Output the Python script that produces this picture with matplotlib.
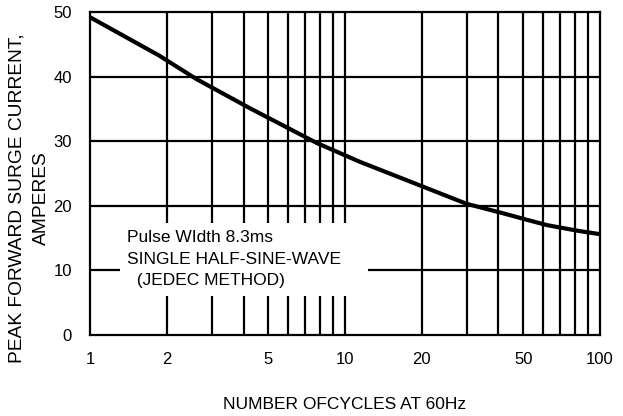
import numpy as np
import matplotlib.pyplot as plt
from matplotlib.patches import Rectangle

# curve values
cycles = [1, 1.86, 2.62, 4.24, 7.77, 11.45, 18.4, 30, 42, 52, 62, 82.5, 100]
current = [49.2, 43.3, 39.6, 35.1, 29.7, 26.8, 23.6, 20.3, 18.8, 17.8, 17.0, 16.1, 15.6]

xticks = [1, 2, 5, 10, 20, 50, 100]
yticks = [0, 10, 20, 30, 40, 50]
note_lines = ["Pulse WIdth 8.3ms", "SINGLE HALF-SINE-WAVE", "  (JEDEC METHOD)"]

plt.rcParams['font.family'] = ['Liberation Sans', 'DejaVu Sans']

fig = plt.figure(figsize=(6.23, 4.16), dpi=100)
ax = fig.add_axes([0.1445, 0.195, 0.8185, 0.776])

ax.set_xscale('log')
ax.set_xlim(1, 100)
ax.set_ylim(0, 50)

# grid: every integer cycle count, every 10 A
for gx in list(range(2, 10)) + list(range(10, 100, 10)):
    ax.axvline(gx, color='black', lw=1.6, zorder=1)
for gy in [10, 20, 30, 40]:
    ax.axhline(gy, color='black', lw=1.6, zorder=1)

ax.plot(cycles, current, color='black', lw=3, zorder=4,
        solid_capstyle='butt', solid_joinstyle='round')

# white note box covering the grid
ax.add_patch(Rectangle((0.059, 0.121), 0.486, 0.226, transform=ax.transAxes,
                       facecolor='white', edgecolor='none', zorder=2))
for i, line in enumerate(note_lines):
    ax.text(0.072, 0.303 - i * 0.068, line, transform=ax.transAxes, fontsize=12.5,
            va='center', ha='left', zorder=3)

ax.set_xticks(xticks)
ax.set_xticklabels([str(t) for t in xticks])
ax.set_yticks(yticks)
ax.minorticks_off()
ax.tick_params(length=0, labelsize=12, pad=12)
ax.tick_params(axis='y', pad=13)

for s in ax.spines.values():
    s.set_linewidth(1.6)
    s.set_color('black')

ax.set_xlabel("NUMBER OFCYCLES AT 60Hz", fontsize=12.5, labelpad=22)
ax.set_ylabel("PEAK FORWARD SURGE CURRENT,\nAMPERES", fontsize=13.8,
              linespacing=1.6)
ax.yaxis.set_label_coords(-0.078, 0.424)

fig.savefig("out.png", dpi=100)
